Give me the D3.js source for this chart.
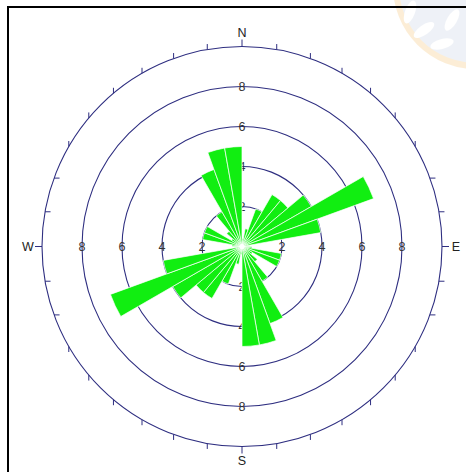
<!DOCTYPE html>
<html>
<head>
<meta charset="utf-8">
<script src="https://cdn.jsdelivr.net/npm/d3@7"></script>
<style>
  html, body { margin: 0; padding: 0; background: #fff; }
  svg { display: block; font-family: "Liberation Sans", Arial, sans-serif; }
</style>
</head>
<body>
<svg id="chart" width="466" height="472"></svg>
<script>
// Axial rose diagram: 10° bins from 0° to 180°, each drawn again at the opposite bearing.
const binStarts = [0, 10, 20, 30, 40, 50, 60, 70, 80, 90, 100, 110, 120, 130, 140, 150, 160, 170];
const counts    = [0.4, 0.9, 2.0, 3.0, 3.0, 4.0, 7.0, 4.0, 0.0, 0.5, 2.0, 2.0, 0.6, 1.0, 2.0, 4.1, 5.0, 5.0];
const binWidth = 10;
const ringValues = [2, 4, 6, 8];
const outerValue = 10;
const compass = [
  { label: "N", bearing: 0 },
  { label: "E", bearing: 90 },
  { label: "S", bearing: 180 },
  { label: "W", bearing: 270 }
];
const tickBearings = d3.range(0, 360, 10);

const svg = d3.select("#chart");
const cx = 242, cy = 246.5;
const r = d3.scaleLinear().domain([0, outerValue]).range([0, 200]);
const rad = d => d * Math.PI / 180;

// faint emblem in the upper right corner
const emblem = svg.append("g").attr("opacity", 0.3);
emblem.append("circle").attr("cx", 476).attr("cy", -14).attr("r", 80)
  .attr("fill", "#c9d4e6").attr("stroke", "#f6c77a").attr("stroke-width", 6);
[[424, 30, -35], [442, 44, -15], [452, 20, -60], [410, 12, -70]].forEach(([x, y, a]) => {
  emblem.append("ellipse").attr("cx", x).attr("cy", y).attr("rx", 12).attr("ry", 5)
    .attr("transform", `rotate(${a},${x},${y})`).attr("fill", "#ffffff");
});

// frame
svg.append("rect").attr("x", 8).attr("y", 7).attr("width", 520).attr("height", 520)
  .attr("fill", "none").attr("stroke", "#000").attr("stroke-width", 2);

const g = svg.append("g").attr("transform", `translate(${cx},${cy})`);
const ringColor = "#2e2e80";

// rings and their value labels
ringValues.concat([outerValue]).forEach(v => {
  g.append("circle").attr("r", r(v)).attr("fill", "none")
    .attr("stroke", ringColor).attr("stroke-width", 1.1);
});
ringValues.forEach(v => {
  [[0, -1], [0, 1], [-1, 0], [1, 0]].forEach(([dx, dy]) => {
    g.append("text").attr("x", dx * r(v)).attr("y", dy * r(v))
      .attr("text-anchor", "middle").attr("dominant-baseline", "central")
      .attr("font-size", 12.5).attr("fill", "#333").text(v);
  });
});

// degree ticks on the outer ring
tickBearings.forEach(b => {
  const a = rad(b);
  const x = r(outerValue) * Math.sin(a), y = -r(outerValue) * Math.cos(a);
  const major = b % 90 === 0;
  let dx = 0, dy = 0;
  const len = major ? 7 : 5.5;
  if (major) { dx = Math.sin(a) * len; dy = -Math.cos(a) * len; }
  else if (b >= 300 || b <= 60) dy = -len;
  else if (b >= 120 && b <= 240) dy = len;
  else dx = len;
  g.append("line").attr("x1", x).attr("y1", y).attr("x2", x + dx).attr("y2", y + dy)
    .attr("stroke", ringColor).attr("stroke-width", 1);
});

// compass letters
compass.forEach(c => {
  const a = rad(c.bearing);
  const d = r(outerValue) + 14;
  g.append("text").attr("x", d * Math.sin(a)).attr("y", -d * Math.cos(a))
    .attr("text-anchor", "middle").attr("dominant-baseline", "central")
    .attr("font-size", 12.5).attr("fill", "#222").text(c.label);
});

// petals
const petals = [];
binStarts.forEach((s, i) => {
  petals.push({ start: s, value: counts[i] });
  petals.push({ start: s + 180, value: counts[i] });
});
const arc = d3.arc()
  .innerRadius(3)
  .outerRadius(d => r(d.value))
  .startAngle(d => rad(d.start))
  .endAngle(d => rad(d.start + binWidth));
g.selectAll("path.petal").data(petals.filter(d => d.value > 0)).join("path")
  .attr("class", "petal")
  .attr("d", arc)
  .attr("fill", "#11ee11")
  .attr("stroke", "#ffffff").attr("stroke-width", 0.7);
</script>
</body>
</html>
